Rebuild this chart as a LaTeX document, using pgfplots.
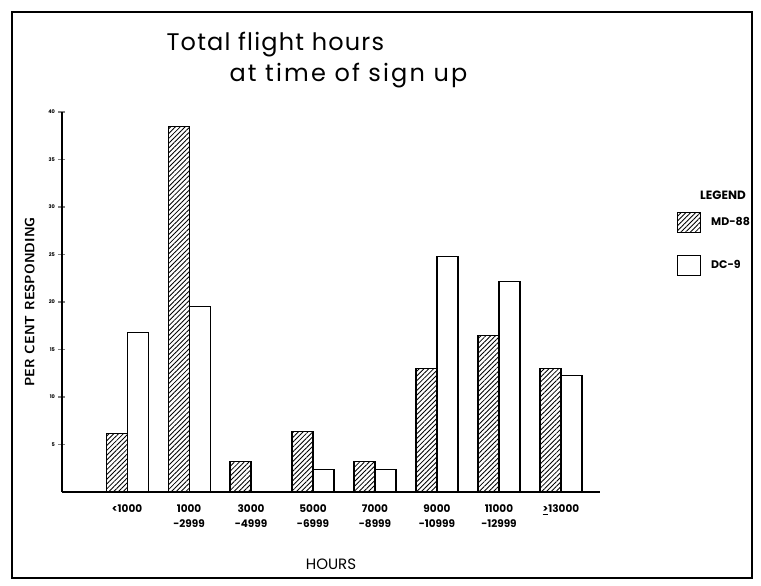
\documentclass[border=0pt]{standalone}
\usepackage{fontspec}
\setmainfont{Poppins}
\usepackage{pgfplots}
\pgfplotsset{compat=1.18}
\usetikzlibrary{patterns.meta}
\begin{document}
\begin{tikzpicture}[x=1pt,y=1pt]
\useasboundingbox (0,0) rectangle (761,-586);
\draw[line width=1.8pt] (12,-12) rectangle (752,-578);
\node[anchor=west,font=\fontsize{24}{28}\selectfont\addfontfeatures{LetterSpace=5}] at (163,-45) {Total flight hours};
\node[anchor=west,font=\fontsize{24}{28}\selectfont\addfontfeatures{LetterSpace=9}] at (226,-76) {at time of sign up};
\node[font=\fontsize{12}{14}\selectfont\bfseries] at (723,-195) {LEGEND};
\begin{axis}[
  at={(62pt,-492pt)}, anchor=south west,
  scale only axis, width=538pt, height=380pt,
  ymin=0, ymax=40, xmin=-1.05, xmax=7.63,
  axis lines*=left,
  axis line style={line width=1.5pt},
  ytick={5,10,...,40},
  yticklabel style={font=\fontsize{5}{5}\selectfont\bfseries},
  /pgf/number format/assume math mode=true,
  major tick length=7pt, tick align=center,
  ytick style={line width=1.3pt},
  xtick={0,...,7}, xtick style={draw=none},
  xticklabels={{<1000},{1000\\-2999},{3000\\-4999},{5000\\-6999},{7000\\-8999},{9000\\-10999},{11000\\-12999},{\underline{>}13000}},
  xticklabel style={align=center, font=\fontsize{10.5}{15}\selectfont\bfseries, yshift=-2pt},
  xlabel={HOURS},
  xlabel style={at={(axis description cs:0.5,-0.19)}, anchor=center, font=\fontsize{15}{17}\selectfont},
  ylabel={PER CENT RESPONDING},
  ylabel style={at={(axis description cs:-0.06,0.5)}, anchor=center, rotate=0, font=\fontsize{13.5}{15}\selectfont\sffamily\bfseries},
  ybar=0pt, bar width=21pt,
  legend image code/.code={\draw[#1, line width=1.1pt] (0pt,-10pt) rectangle (23pt,10pt); \path (31pt,0pt);},
  legend style={draw=none, fill=none, at={(rel axis cs:1.143,0.738)}, anchor=north west, font=\fontsize{11}{13}\selectfont\bfseries, row sep=22pt, inner sep=0pt},
  legend cell align=left,
]
\addplot[draw=black, line width=1.1pt, pattern={Lines[angle=45,distance=3.4pt,line width=0.85pt]}]
  coordinates {(0,6.2) (1,38.5) (2,3.2) (3,6.4) (4,3.2) (5,13.0) (6,16.5) (7,13.0)};
\addlegendentry{MD-88}
\addplot[draw=black, fill=white, line width=1.1pt]
  coordinates {(0,16.8) (1,19.5) (2,0) (3,2.4) (4,2.4) (5,24.8) (6,22.2) (7,12.3)};
\addlegendentry{DC-9}
\end{axis}
\end{tikzpicture}
\end{document}
